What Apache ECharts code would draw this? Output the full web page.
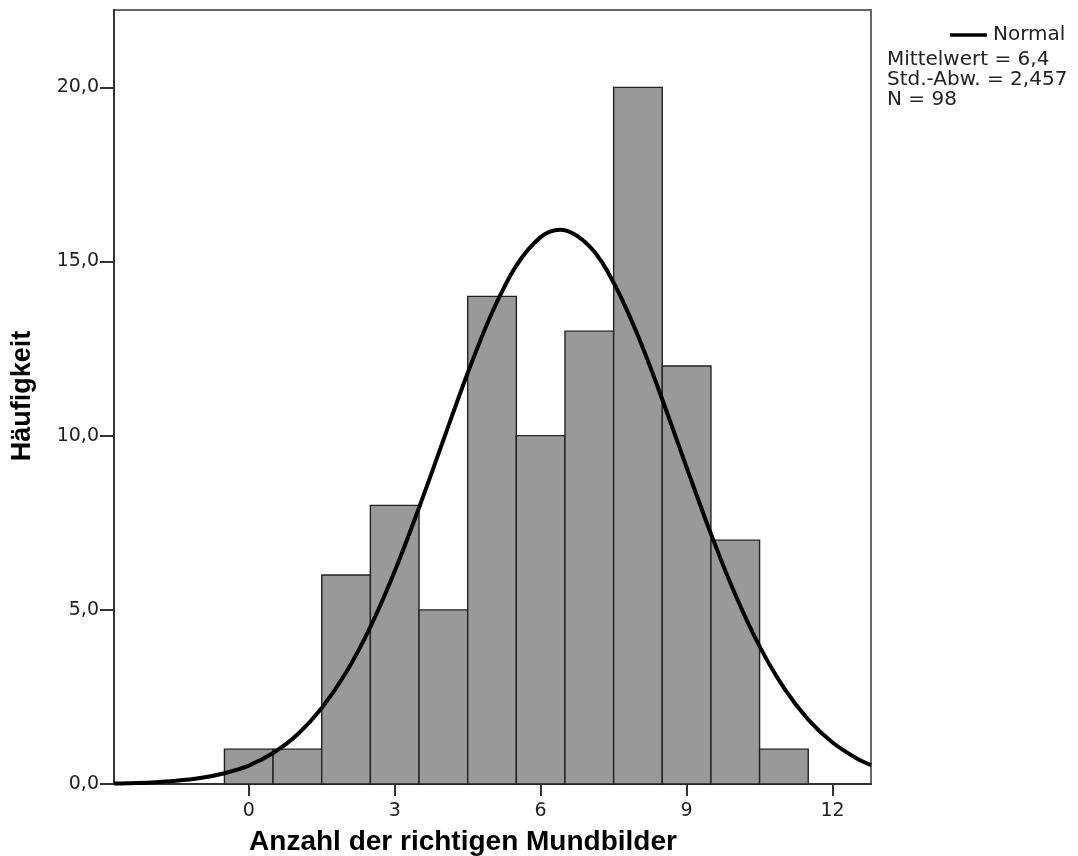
<!DOCTYPE html>
<html>
<head>
<meta charset="utf-8">
<script src="https://cdn.jsdelivr.net/npm/echarts@6/dist/echarts.min.js"></script>
<style>html,body{margin:0;padding:0;background:#fff;}#c{width:1078px;height:856px;}</style>
</head>
<body>
<div id="c"></div>
<script>
// Histogram bins (value = number of correct answers), frequencies
const binCenters = [0, 1, 2, 3, 4, 5, 6, 7, 8, 9, 10, 11];
const frequencies = [1, 1, 6, 8, 5, 14, 10, 13, 20, 12, 7, 1];
// Normal curve points (x, frequency)
const curveX = [-2.77, -2.5, -2, -1.5, -1, -0.5, 0, 0.5, 1, 1.5, 2, 2.5, 3, 3.5, 4, 4.5, 5, 5.5, 6, 6.4, 7, 7.5, 8, 8.5, 9, 9.5, 10, 10.5, 11, 11.5, 12, 12.5, 12.79];
const curveY = [0.015, 0.022, 0.046, 0.09, 0.17, 0.31, 0.53, 0.89, 1.42, 2.18, 3.2, 4.51, 6.11, 7.93, 9.87, 11.8, 13.53, 14.88, 15.7, 15.91, 15.44, 14.39, 12.87, 11.04, 9.09, 7.18, 5.44, 3.95, 2.76, 1.85, 1.19, 0.73, 0.54];
const xTicks = [0, 3, 6, 9, 12];
const yTicks = [0, 5, 10, 15, 20];
const legendLines = ['Mittelwert = 6,4', 'Std.-Abw. = 2,457', 'N = 98'];

const chart = echarts.init(document.getElementById('c'), null, {renderer: 'canvas'});
const barData = binCenters.map((x, i) => [x, frequencies[i]]);
const lineData = curveX.map((x, i) => [x, curveY[i]]);
const tickFont = {fontFamily: 'DejaVu Sans', fontSize: 19, color: '#222'};
const legFont = '20px "DejaVu Sans"';

chart.setOption({
  animation: false,
  backgroundColor: '#fff',
  grid: {left: 114, right: 207, top: 10, bottom: 72, show: true, borderColor: '#666', borderWidth: 2, backgroundColor: 'transparent'},
  xAxis: {
    type: 'value', min: -2.77, max: 12.79,
    axisLine: {show: true, onZero: false, lineStyle: {color: '#333', width: 2}},
    axisTick: {show: true, length: 12, customValues: xTicks, lineStyle: {color: '#333', width: 2}},
    axisLabel: Object.assign({margin: 18, customValues: xTicks, formatter: v => String(v)}, tickFont),
    splitLine: {show: false}
  },
  yAxis: {
    type: 'value', min: 0, max: 22.22,
    axisLine: {show: true, onZero: false, lineStyle: {color: '#333', width: 2}},
    axisTick: {show: true, length: 14, customValues: yTicks, lineStyle: {color: '#333', width: 2}},
    axisLabel: Object.assign({margin: 15, customValues: yTicks, formatter: v => v.toFixed(1).replace('.', ',')}, tickFont),
    splitLine: {show: false}
  },
  series: [
    {
      type: 'custom', z: 2,
      data: barData,
      renderItem: function (params, api) {
        const x = api.value(0), y = api.value(1);
        const p1 = api.coord([x - 0.5, y]);
        const p2 = api.coord([x + 0.5, 0]);
        return {
          type: 'rect',
          shape: {x: p1[0], y: p1[1], width: p2[0] - p1[0], height: p2[1] - p1[1]},
          style: {fill: '#999999', stroke: '#222', lineWidth: 1.4}
        };
      }
    },
    {
      type: 'line', z: 3, data: lineData, smooth: 0.35, showSymbol: false, symbol: 'none',
      lineStyle: {color: '#000', width: 4}, clip: true
    }
  ],
  graphic: [
    {type: 'text', x: 463, y: 842, style: {text: 'Anzahl der richtigen Mundbilder', align: 'center', verticalAlign: 'middle', font: 'bold 28px "Liberation Sans", Arial, sans-serif', fill: '#000'}},
    {type: 'text', x: 23, y: 396, rotation: Math.PI / 2, style: {text: 'Häufigkeit', align: 'center', verticalAlign: 'middle', font: 'bold 27px "Liberation Sans", Arial, sans-serif', fill: '#000'}},
    {type: 'line', shape: {x1: 950, y1: 35, x2: 987, y2: 35}, style: {stroke: '#000', lineWidth: 3.5}},
    {type: 'text', x: 993, y: 35, style: {text: 'Normal', align: 'left', verticalAlign: 'middle', font: legFont, fill: '#222'}},
    {type: 'text', x: 887, y: 60, style: {text: legendLines[0], align: 'left', verticalAlign: 'middle', font: legFont, fill: '#222'}},
    {type: 'text', x: 887, y: 80, style: {text: legendLines[1], align: 'left', verticalAlign: 'middle', font: legFont, fill: '#222'}},
    {type: 'text', x: 887, y: 100, style: {text: legendLines[2], align: 'left', verticalAlign: 'middle', font: legFont, fill: '#222'}}
  ]
});
</script>
</body>
</html>
